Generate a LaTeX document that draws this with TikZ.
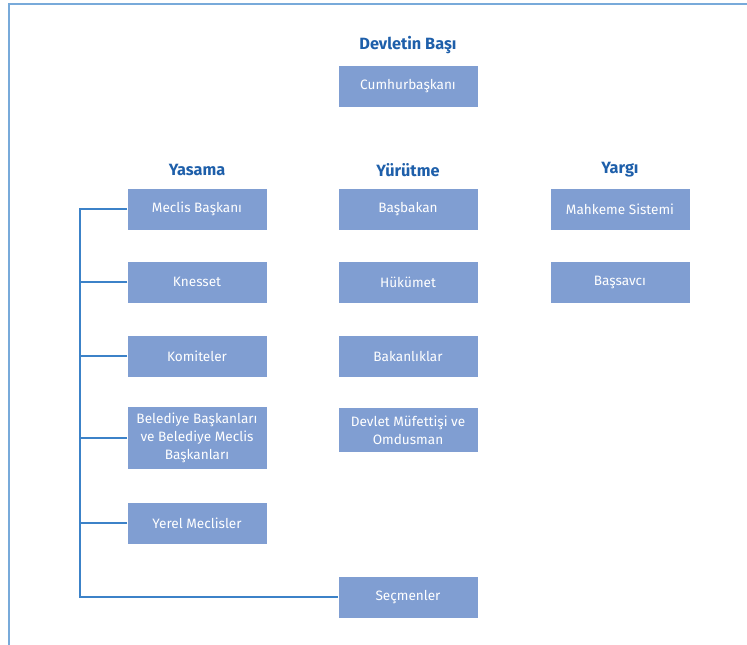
\documentclass[tikz,border=0pt]{standalone}
\usepackage{fontspec}
\setmainfont{Fira Sans}
\definecolor{boxblue}{RGB}{128,158,210}
\definecolor{headblue}{RGB}{30,95,170}
\definecolor{lineblue}{RGB}{60,130,200}
\definecolor{framblue}{RGB}{120,170,218}
\tikzset{
  orgbox/.style={fill=boxblue, text=white, minimum width=139pt, minimum height=41pt,
    inner sep=2pt, align=center, font=\fontsize{13.6}{18}\selectfont},
  orghead/.style={text=headblue, font=\fontsize{16.3}{18}\selectfont\bfseries},
}
\begin{document}
\begin{tikzpicture}[x=1pt,y=-1pt]
      \useasboundingbox (0,0) rectangle (747,645);
      \draw[framblue, line width=1.6pt] (9,645) -- (9,4) -- (747,4);
      \draw
        (408,45) node[orghead] (hd){Devletin Başı}
        (408,86) node[orgbox] (cb){Cumhurbaşkanı}
        (197,170) node[orghead] (hy){Yasama}
        (408,170) node[orghead] (hr){Yürütme}
        (620,170) node[orghead] (hg){Yargı}
        (197,209) node[orgbox] (mb){Meclis Başkanı}
        (197,282) node[orgbox] (kn){Knesset}
        (197,356) node[orgbox] (km){Komiteler}
        (197,438) node[orgbox, minimum height=62pt] (bb){Belediye Başkanları\\ve Belediye Meclis\\Başkanları}
        (197,523) node[orgbox] (ym){Yerel Meclisler}
        (408,209) node[orgbox] (bs){Başbakan}
        (408,282) node[orgbox] (hk){Hükümet}
        (408,356) node[orgbox] (bk){Bakanlıklar}
        (408,430) node[orgbox, minimum height=44pt] (dm){Devlet Müfettişi ve\\Omdusman}
        (408,597) node[orgbox] (sc){Seçmenler}
        (620,209) node[orgbox] (ms){Mahkeme Sistemi}
        (620,282) node[orgbox] (sv){Başsavcı};
      \coordinate (top) at (80,209);
      \coordinate (bot) at (80,597);
      \begin{scope}[-, lineblue, line width=1.2pt]
        \draw (mb.west) -- (top) -- (bot) -- (sc.west);
        \draw (kn.west) to (kn.west -| top);
        \draw (km.west) to (km.west -| top);
        \draw (bb.west) to (bb.west -| top);
        \draw (ym.west) to (ym.west -| top);
      \end{scope}
    \end{tikzpicture}
\end{document}
